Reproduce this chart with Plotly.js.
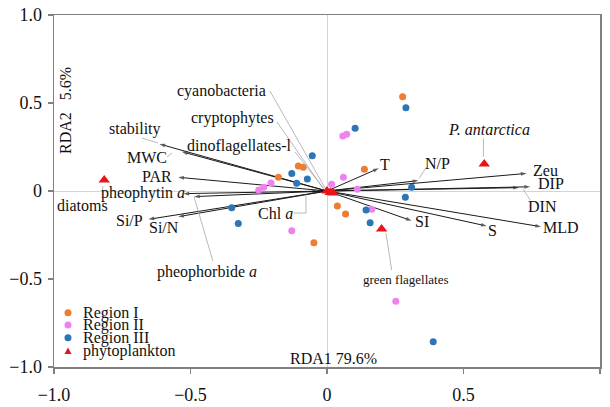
<!DOCTYPE html>
<html>
<head>
<meta charset="utf-8">
<script src="https://cdn.plot.ly/plotly-3.0.1.min.js"></script>
<style>html,body{margin:0;padding:0;background:#fff;}#chart{width:610px;height:407px;}</style>
</head>
<body>
<div id="chart"></div>
<script>
// ---- data ----
const region1X = [0.277, 0.137, -0.178, -0.105, -0.087, 0.038, 0.068, -0.048];
const region1Y = [0.536, 0.123, 0.078, 0.142, 0.135, -0.085, -0.131, -0.294];

const region2X = [0.058, 0.072, 0.060, 0.111, 0.017, -0.250, -0.232, -0.205, -0.129, 0.164, 0.252];
const region2Y = [0.313, 0.322, 0.078, 0.010, 0.038, 0.005, 0.022, 0.045, -0.226, -0.104, -0.627];

const region3X = [0.289, 0.103, -0.054, -0.072, 0.310, 0.287, -0.129, -0.111, -0.349, -0.325, 0.143, 0.158, 0.389];
const region3Y = [0.473, 0.356, 0.200, 0.068, 0.021, -0.036, 0.100, 0.044, -0.095, -0.184, -0.108, -0.180, -0.856];

const phytoNames = ['diatoms', 'P. antarctica', 'green flagellates', 'cyanobacteria', 'cryptophytes', 'dinoflagellates-l'];
const phytoX = [-0.816, 0.576, 0.200, 0.000, 0.012, 0.022];
const phytoY = [0.063, 0.153, -0.216, 0.000, -0.008, -0.012];

const envNames = ['stability', 'MWC', 'PAR', 'pheophytin a', 'pheophorbide a', 'Chl a', 'Si/P', 'Si/N',
                  'T', 'N/P', 'Zeu', 'DIN', 'DIP', 'SI', 'S', 'MLD'];
const envX = [-0.614, -0.532, -0.545, -0.526, -0.487, -0.066, -0.654, -0.545,
              0.190, 0.335, 0.731, 0.703, 0.744, 0.310, 0.585, 0.784];
const envY = [0.267, 0.223, 0.078, -0.015, -0.032, -0.004, -0.161, -0.146,
              0.129, 0.059, 0.100, 0.019, 0.024, -0.169, -0.199, -0.203];

const tickVals = [-1, -0.5, 0, 0.5, 1];
const tickText = ['\u22121.0', '\u22120.5', '0', '0.5', '1.0'];

const legendNames = ['Region I', 'Region II', 'Region III', 'phytoplankton'];

// ---- styling / label placement ----
const FONT = 'Liberation Serif, Times New Roman, serif';
const C_ORANGE = '#ED7D31', C_PINK = '#EE82EE', C_BLUE = '#2E75B6', C_RED = '#E8141C';

const labelPos = {
  'stability': [-0.703, 0.352], 'MWC': [-0.658, 0.190], 'PAR': [-0.621, 0.085],
  'pheophytin a': [-0.674, -0.009], 'pheophorbide a': [-0.440, -0.460], 'Chl a': [-0.187, -0.125],
  'Si/P': [-0.725, -0.165], 'Si/N': [-0.597, -0.210], 'T': [0.212, 0.148], 'N/P': [0.403, 0.159],
  'Zeu': [0.799, 0.119], 'DIN': [0.791, -0.089], 'DIP': [0.821, 0.045], 'SI': [0.348, -0.174],
  'S': [0.608, -0.222], 'MLD': [0.857, -0.205],
  'diatoms': [-0.897, -0.085], 'P. antarctica': [0.593, 0.352], 'green flagellates': [0.289, -0.500],
  'cyanobacteria': [-0.388, 0.568], 'cryptophytes': [-0.346, 0.413], 'dinoflagellates-l': [-0.319, 0.256]
};
const labelHtml = {
  'pheophytin a': 'pheophytin <i>a</i>', 'pheophorbide a': 'pheophorbide <i>a</i>',
  'Chl a': 'Chl <i>a</i>', 'P. antarctica': '<i>P. antarctica</i>'
};
const leaders = [
  [-0.209, 0.568, -0.007, 0.017], [-0.183, 0.392, -0.015, 0.017], [-0.117, 0.222, -0.011, 0.011],
  [-0.678, 0.301, -0.619, 0.273], [-0.586, 0.193, -0.568, 0.216], [-0.418, -0.398, -0.487, -0.034],
  [-0.824, -0.040, -0.821, 0.028], [0.573, 0.299, 0.573, 0.195], [0.365, 0.138, 0.338, 0.072],
  [0.744, -0.051, 0.718, 0.011], [0.237, -0.449, 0.216, -0.240]
];

// ---- traces ----
const ax = [], ay = [], asym = [], asize = [];
envX.forEach((x, i) => {
  ax.push(0, x, null); ay.push(0, envY[i], null);
  asym.push('circle', 'arrow', 'circle'); asize.push(0, 6, 0);
});

const traces = [
  { x: ax, y: ay, mode: 'lines+markers', type: 'scatter', hoverinfo: 'skip', showlegend: false,
    line: { color: '#1a1a1a', width: 1 },
    marker: { symbol: asym, size: asize, angleref: 'previous', color: '#1a1a1a', line: { width: 0 } } },
  { x: region1X, y: region1Y, mode: 'markers', type: 'scatter', name: legendNames[0], showlegend: false,
    marker: { color: C_ORANGE, size: 7 } },
  { x: region2X, y: region2Y, mode: 'markers', type: 'scatter', name: legendNames[1], showlegend: false,
    marker: { color: C_PINK, size: 7 } },
  { x: region3X, y: region3Y, mode: 'markers', type: 'scatter', name: legendNames[2], showlegend: false,
    marker: { color: C_BLUE, size: 7 } },
  { x: phytoX, y: phytoY, mode: 'markers', type: 'scatter', name: legendNames[3], text: phytoNames, showlegend: false,
    marker: { color: C_RED, size: 10, symbol: 'triangle-up' } }
];

// ---- annotations ----
const annotations = [];
Object.keys(labelPos).forEach(k => {
  annotations.push({
    x: labelPos[k][0], y: labelPos[k][1], xref: 'x', yref: 'y', showarrow: false,
    text: labelHtml[k] || k, xanchor: 'center', yanchor: 'middle',
    font: { family: FONT, size: k === 'green flagellates' ? 13 : 16, color: '#111' }
  });
});
annotations.push({ x: 0.022, y: -0.949, xref: 'x', yref: 'y', showarrow: false, text: 'RDA1 79.6%',
  font: { family: FONT, size: 16, color: '#111' } });
annotations.push({ x: -0.960, y: 0.46, xref: 'x', yref: 'y', showarrow: false, textangle: -90,
  text: 'RDA2\u00a0\u00a0\u00a05.6%', font: { family: FONT, size: 16, color: '#111' } });

// custom compact legend
const legY = [0.1543, 0.1193, 0.0832, 0.0455];
const legColors = [C_ORANGE, C_PINK, C_BLUE, C_RED];
const shapes = [];
legendNames.forEach((n, i) => {
  annotations.push({ x: 0.0495, y: legY[i], xref: 'paper', yref: 'paper', xanchor: 'left', yanchor: 'middle',
    showarrow: false, text: n, font: { family: FONT, size: 16, color: '#111' } });
  if (i < 3) {
    shapes.push({ type: 'circle', xref: 'paper', yref: 'paper', xsizemode: 'pixel', ysizemode: 'pixel',
      xanchor: 0.0256, yanchor: legY[i], x0: -3.5, x1: 3.5, y0: -3.5, y1: 3.5,
      fillcolor: legColors[i], line: { width: 0 } });
  } else {
    shapes.push({ type: 'path', xref: 'paper', yref: 'paper', xsizemode: 'pixel', ysizemode: 'pixel',
      xanchor: 0.0256, yanchor: legY[i], path: 'M -3.5 -3 L 3.5 -3 L 0 3.5 Z',
      fillcolor: legColors[i], line: { width: 0 } });
  }
});
leaders.forEach(l => {
  shapes.push({ type: 'line', xref: 'x', yref: 'y', x0: l[0], y0: l[1], x1: l[2], y1: l[3],
    line: { color: '#a6a6a6', width: 0.8 } });
});
shapes.push({ type: 'path', xref: 'x', yref: 'y', path: 'M -0.122 -0.125 L -0.077 -0.125 L -0.077 -0.02',
  line: { color: '#a6a6a6', width: 0.8 } });

const axisCommon = {
  range: [-1, 1], tickvals: tickVals, ticktext: tickText, showgrid: false,
  zeroline: true, zerolinecolor: '#d4d4d4', zerolinewidth: 1,
  showline: true, linecolor: '#808080', linewidth: 1.5, mirror: true,
  ticks: 'outside', ticklen: 5, tickcolor: '#808080', tickwidth: 1.5,
  tickfont: { family: FONT, size: 18, color: '#111' }
};

const layout = {
  width: 610, height: 407,
  margin: { l: 54, r: 10, t: 15, b: 40 },
  paper_bgcolor: '#fff', plot_bgcolor: '#fff',
  showlegend: false,
  xaxis: Object.assign({}, axisCommon, { ticklabelstandoff: 6 }),
  yaxis: Object.assign({}, axisCommon, { ticklabelstandoff: 2 }),
  annotations: annotations,
  shapes: shapes,
  font: { family: FONT }
};

Plotly.newPlot('chart', traces, layout, { displayModeBar: false, staticPlot: true });
</script>
</body>
</html>
